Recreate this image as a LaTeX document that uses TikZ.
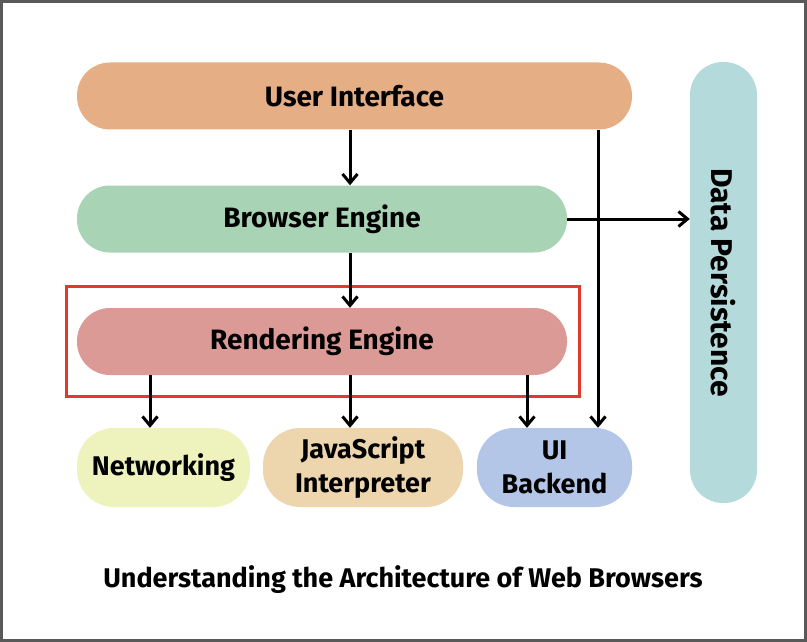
\documentclass[tikz,border=0pt]{standalone}
\usepackage{fontspec}
\setmainfont{Fira Sans}
\usetikzlibrary{arrows.meta}
\definecolor{uiColor}{HTML}{E5AE85}
\definecolor{beColor}{HTML}{A9D3B5}
\definecolor{reColor}{HTML}{DB9A96}
\definecolor{netColor}{HTML}{EEF3BE}
\definecolor{jsColor}{HTML}{EDD5AE}
\definecolor{ubColor}{HTML}{B4C6E7}
\definecolor{dpColor}{HTML}{B4DADB}
\definecolor{frameColor}{HTML}{E03A2E}
\tikzset{%
  >={Straight Barb[width=15pt,length=9pt]},
  % Specifications for style of nodes:
        layer/.style = {rectangle, rounded corners=33pt, draw=none,
                        minimum height=67pt, inner sep=0pt,
                        text centered, font=\bfseries\fontsize{28}{32}\selectfont},
    mainLayer/.style = {layer, minimum width=490pt},
     subLayer/.style = {layer, minimum height=79pt, rounded corners=37pt,
                        align=center, font=\bfseries\fontsize{27}{34}\selectfont},
         flow/.style = {->, line width=3pt, black},
}

\begin{document}
\begin{tikzpicture}[x=1pt, y=-1pt]
  \useasboundingbox (0,0) rectangle (807,642);
  \draw[line width=2.5pt, draw=black!65, fill=white] (1.5,1.5) rectangle (805.5,640.5);

  % Specification of nodes (position, etc.)
  \node (userIf)    [layer, minimum width=555pt, fill=uiColor] at (354.5,96) {User Interface};
  \node (browserEn) [mainLayer, fill=beColor] at (322,219) {Browser Engine};
  \node (renderEn)  [mainLayer, fill=reColor] at (322,341.5) {Rendering Engine};
  \node (network)   [subLayer, minimum width=173pt, fill=netColor] at (163.5,467.5) {Networking};
  \node (jsInterp)  [subLayer, minimum width=200pt, fill=jsColor] at (363,467.5) {JavaScript\\Interpreter};
  \node (uiBack)    [subLayer, minimum width=155pt, fill=ubColor] at (554.5,467.5) {UI\\Backend};
  \node (dataPers)  [layer, minimum width=441pt, fill=dpColor, rotate=-90,
                     font=\bfseries\fontsize{30}{34}\selectfont] at (723.5,282.5) {Data Persistence};
  \node (caption)   [font=\bfseries\fontsize{27}{32}\selectfont] at (403,580) {Understanding the Architecture of Web Browsers};

  % highlight round the rendering engine
  \draw[line width=3pt, frameColor] (66,286) rectangle (579,396);

  % Specification of lines between nodes specified above
  \draw[flow] (userIf.south -| 350,0) -- (browserEn.north -| 350,0);
  \draw[flow] (browserEn.south -| 350,0) -- (renderEn.north -| 350,0);
  \draw[flow] (browserEn.east) -- (browserEn.east -| dataPers.south);
  \draw[flow] (userIf.south -| 598,0) -- (uiBack.north -| 598,0);

  \draw[flow] (renderEn.south -| 150,0) -- (network.north -| 150,0);
  \draw[flow] (renderEn.south -| 350,0) -- (jsInterp.north -| 350,0);
  \draw[flow] (renderEn.south -| 527,0) -- (uiBack.north -| 527,0);
\end{tikzpicture}
\end{document}
